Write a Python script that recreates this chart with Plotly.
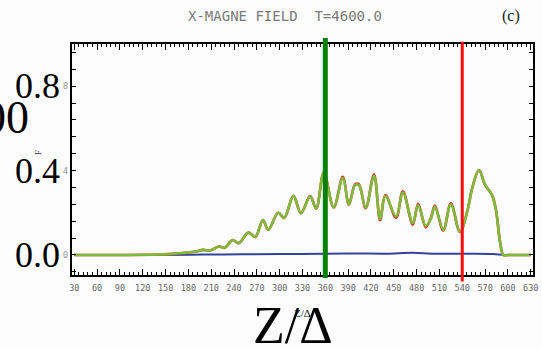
import plotly.graph_objects as go

# Axial coordinate Z/Δ and field profiles
z_pts = [30, 100, 140, 160, 175, 190, 199, 208, 220, 228, 238, 246, 259, 268, 278, 285,
         298, 306, 318, 328, 340, 348, 358, 371, 383, 391, 399, 404, 413, 424, 432, 439,
         453, 462, 475, 482, 492, 499, 504, 515, 525, 537, 547, 553, 562, 570, 579, 584,
         590, 594, 600, 630]
field_green = [0, 0, 0.002, 0.005, 0.01, 0.016, 0.024, 0.02, 0.04, 0.034, 0.071, 0.056,
               0.106, 0.085, 0.166, 0.12, 0.2, 0.176, 0.28, 0.198, 0.277, 0.22, 0.39, 0.227,
               0.364, 0.24, 0.33, 0.332, 0.225, 0.375, 0.171, 0.28, 0.182, 0.296, 0.15, 0.237,
               0.138, 0.174, 0.229, 0.119, 0.24, 0.111, 0.213, 0.316, 0.403, 0.332, 0.285,
               0.22, 0.055, 0, 0, 0]
field_red = [0, 0, 0.002, 0.005, 0.01, 0.016, 0.024, 0.02, 0.04, 0.034, 0.071, 0.056,
             0.106, 0.085, 0.166, 0.12, 0.2, 0.176, 0.28, 0.198, 0.279, 0.22, 0.392, 0.225,
             0.37, 0.238, 0.334, 0.336, 0.222, 0.381, 0.165, 0.284, 0.176, 0.302, 0.144, 0.243,
             0.132, 0.178, 0.234, 0.116, 0.245, 0.109, 0.213, 0.316, 0.403, 0.332, 0.285,
             0.22, 0.055, 0, 0, 0]

z_blue = [30, 150, 200, 250, 300, 360, 400, 440, 475, 500, 540, 580, 596, 630]
field_blue = [0, 0, 0.002, 0.003, 0.004, 0.006, 0.007, 0.006, 0.01, 0.006, 0.006, 0.005, 0.0, 0.0]

# Marker positions
z_green_mark = 360
z_red_mark = 540

# Axis ticks
x_tickvals = list(range(30, 631, 30))
x_ticktext = [str(v) for v in x_tickvals]
y_tickvals = [round(-0.08 + 0.08 * i, 2) for i in range(14)]
y_label_map = {0.0: "0", 0.4: "4", 0.8: "8"}
y_ticktext = [y_label_map.get(v, "") for v in y_tickvals]
big_y_labels = [0.0, 0.4, 0.8]

fig = go.Figure()
fig.add_trace(go.Scatter(x=z_blue, y=field_blue, mode="lines",
                         line=dict(color="#33449a", width=2, shape="spline")))
fig.add_trace(go.Scatter(x=z_pts, y=field_red, mode="lines",
                         line=dict(color="#e8231e", width=2.6, shape="spline")))
fig.add_trace(go.Scatter(x=z_pts, y=field_green, mode="lines",
                         line=dict(color="#7fba3c", width=2.6, shape="spline")))

fig.add_shape(type="line", xref="x", yref="paper", x0=z_green_mark, x1=z_green_mark,
              y0=-0.013, y1=1.026, line=dict(color="#0a800a", width=5))
fig.add_shape(type="line", xref="x", yref="paper", x0=z_red_mark, x1=z_red_mark,
              y0=-0.028, y1=1.01, line=dict(color="#ff0a0a", width=3))

mono = "DejaVu Sans Mono"
serif = "Liberation Serif"

annotations = [
    dict(text="X-MAGNE FIELD  T=4600.0", xref="paper", yref="paper", x=0.463, y=1.12,
         xanchor="center", yanchor="middle", showarrow=False,
         font=dict(family=mono, size=14, color="#7a7a7a")),
    dict(text="(c)", xref="paper", yref="paper", x=0.953, y=1.123,
         xanchor="center", yanchor="middle", showarrow=False,
         font=dict(family=serif, size=16, color="#222")),
    dict(text="F", xref="paper", yref="paper", x=-0.075, y=0.53, textangle=-90,
         xanchor="center", yanchor="middle", showarrow=False,
         font=dict(family=serif, size=9, color="#333")),
    dict(text="00", xref="paper", yref="paper", x=-0.09, y=0.68,
         xanchor="right", yanchor="middle", showarrow=False,
         font=dict(family=serif, size=46, color="#000")),
    dict(text="Z/Δ", xref="paper", yref="paper", x=0.48, y=-0.088,
         xanchor="center", yanchor="top", showarrow=False,
         font=dict(family=serif, size=52, color="#000")),
    dict(text="Z/Δ", xref="paper", yref="paper", x=0.5, y=-0.13,
         xanchor="center", yanchor="top", showarrow=False,
         font=dict(family=serif, size=11, color="#111")),
]
for v in big_y_labels:
    annotations.append(dict(text=f"{v:.1f}", xref="paper", yref="y", x=0, y=v,
                            xanchor="right", yanchor="middle", xshift=-10, showarrow=False,
                            font=dict(family=serif, size=36, color="#000")))

fig.update_layout(
    width=542, height=349,
    margin=dict(l=72, r=4, t=44, b=74),
    paper_bgcolor="#fcfcfc", plot_bgcolor="#fcfcfc",
    showlegend=False,
    annotations=annotations,
    xaxis=dict(range=[27, 633], tickvals=x_tickvals, ticktext=x_ticktext,
               ticks="inside", ticklen=6, tickwidth=1.3, tickcolor="#000",
               minor=dict(dtick=6, tick0=0, ticks="inside", ticklen=3, tickwidth=1.3,
                          tickcolor="#000", showgrid=False),
               showline=True, linecolor="#000", linewidth=2, mirror="allticks",
               showgrid=False, zeroline=False, ticklabelstandoff=4,
               tickfont=dict(family=mono, size=8.5, color="#666")),
    yaxis=dict(range=[-0.095, 1.0], tickvals=y_tickvals, ticktext=y_ticktext,
               ticks="inside", ticklen=4, tickwidth=1.3, tickcolor="#000",
               showline=True, linecolor="#000", linewidth=2, mirror="allticks",
               showgrid=False, zeroline=False,
               tickfont=dict(family=mono, size=9, color="#9a9a9a")),
)

fig.write_html("out.html")
